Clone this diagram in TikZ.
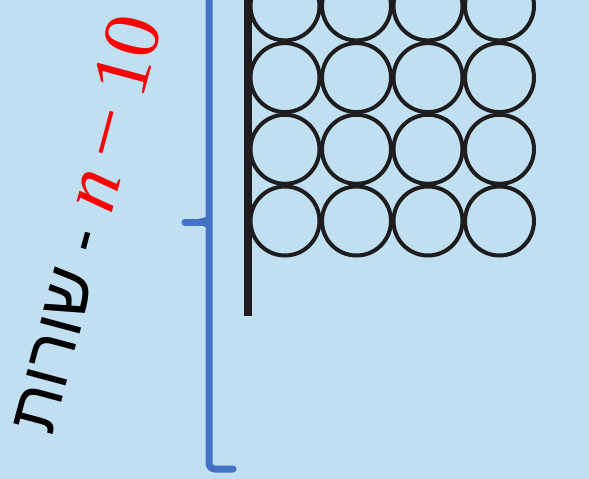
\documentclass[tikz,border=0pt]{standalone}
\usepackage{fontspec}
\newfontfamily\hebfont[Script=Hebrew]{Liberation Sans}
\newfontfamily\mathish{Liberation Serif}
\TeXXeTstate=1
\definecolor{bg}{RGB}{192,223,240}
\definecolor{bracecol}{RGB}{68,114,196}
\definecolor{ink}{RGB}{30,28,28}
\begin{document}
\begin{tikzpicture}[x=1pt,y=-1pt,
  ballstyle/.style={circle, draw=ink, line width=4pt, minimum size=69pt, inner sep=0pt},
  bracestyle/.style={draw=bracecol, line width=7pt, line cap=round}]
\fill[bg] (0,0) rectangle (589,479);
\useasboundingbox (0,0) rectangle (589,479);
\clip (0,0) rectangle (589,479);
% grid of circles
\foreach \c/\x in {1/285,2/356.5,3/428,4/499.5}{
  \foreach \r/\y in {1/5.9,2/77.6,3/149.3,4/221}{
    \node[ballstyle] (ball\r\c) at (\x,\y) {};
  }
}
% black wall
\coordinate (walltop) at (248,-6);
\coordinate (wallbot) at (248,316);
\draw[ink, line width=7.5pt] (walltop) -- (wallbot);
% blue brace
\coordinate (bracetop) at (209,-6);
\coordinate (bracebot) at (209,469);
\coordinate (braceend) at (233,469);
\draw[bracestyle, rounded corners=6pt] (bracetop) -- (bracebot) -- (braceend);
\coordinate (cusptip) at (185,222);
\coordinate (cuspbase) at (204,222);
\draw[bracestyle] (cusptip) -- (cuspbase);
\fill[bracecol] (199,218.6) .. controls (206,218.4) and (209,215) .. (209,211)
  -- (209,233) .. controls (209,229) and (206,225.6) .. (199,225.4) -- cycle;
% label
\node[rotate=75, anchor=base west, inner sep=0pt] (lbl) at (52,437)
  {\hebfont\fontsize{68}{68}\selectfont\beginR שורות\endR{} - \textcolor{red}{\mathish\fontsize{80}{80}\selectfont\textit{n}\hspace{0.17em}\scalebox{1.15}[1]{−}\hspace{0.17em}10}};
\end{tikzpicture}
\end{document}
